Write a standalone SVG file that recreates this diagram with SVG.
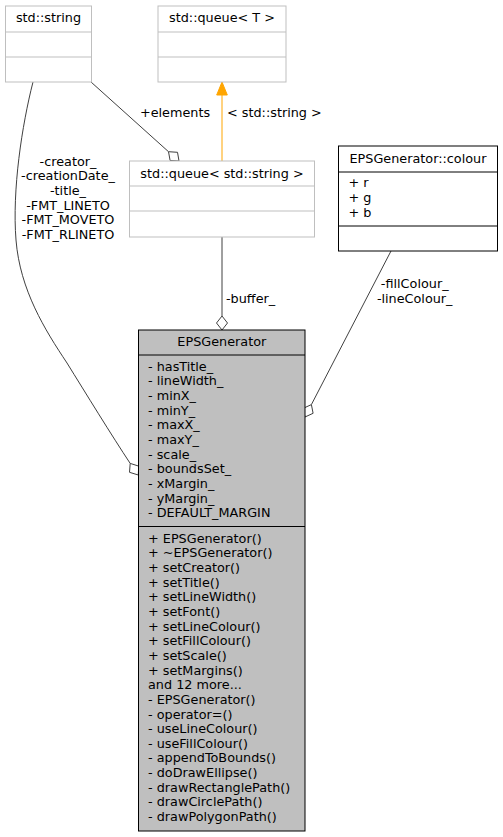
<svg xmlns="http://www.w3.org/2000/svg" width="503" height="837" viewBox="0 0 503 837">
<style>
text{font-family:"DejaVu Sans","Liberation Sans",sans-serif;font-size:12.8px;fill:#000}
.c{text-anchor:middle}
.g{fill:#fff;stroke:#bfbfbf;stroke-width:1}
.k{fill:#fff;stroke:#000;stroke-width:1}
.m{fill:#bfbfbf;stroke:#000;stroke-width:1}
.gl{stroke:#bfbfbf;stroke-width:1}
.kl{stroke:#000;stroke-width:1}
.e{fill:none;stroke:#404040;stroke-width:1}
.d{fill:#fff;stroke:#404040;stroke-width:1}
</style>
<rect width="503" height="837" fill="#fff"/>
<g id="connectors">
  <!-- std::string -> EPSGenerator -->
  <path class="e" d="M33,82 C22,125 12,190 16,240 C20,290 45,330 67,363 C85,392 112,436 130.2,463.4"/>
  <polygon class="d" points="138.3,475 138.7,466.1 130.2,463.4 129.5,472.3"/>
  <!-- std::string -> queue<string> elements -->
  <path class="e" d="M91,82 L168.5,151.7"/>
  <polygon class="d" points="179,161 177.5,152.3 168.5,151.7 170.1,160.5"/>
  <!-- template instantiation -->
  <line x1="222" y1="161" x2="222" y2="95" stroke="#ffa500" stroke-width="1"/>
  <polygon points="222,82 216.7,95 227.3,95" fill="#ffa500" stroke="#ffa500" stroke-width="1"/>
  <!-- buffer -->
  <line class="e" x1="222" y1="237" x2="222" y2="316"/>
  <polygon class="d" points="222,316 227.5,323 222,330 216.5,323"/>
  <!-- colour -->
  <path class="e" d="M391,251 L311.4,404.6"/>
  <polygon class="d" points="311.4,404.6 313.1,413.3 305,417 303.3,408.3"/>
  <text class="c" x="68" y="165.5">-creator_</text>
  <text class="c" x="68" y="180.2">-creationDate_</text>
  <text class="c" x="68" y="194.8">-title_</text>
  <text class="c" x="68" y="209.5">-FMT_LINETO</text>
  <text class="c" x="68" y="224.2">-FMT_MOVETO</text>
  <text class="c" x="68" y="238.8">-FMT_RLINETO</text>
  <text class="c" x="175" y="117.2">+elements</text>
  <text x="227" y="117.2">&lt; std::string &gt;</text>
  <text x="226" y="302.8">-buffer_</text>
  <text class="c" x="414.7" y="287.5">-fillColour_</text>
  <text class="c" x="414.7" y="302.5">-lineColour_</text>
</g>
<g id="std_string">
  <rect class="g" x="5.5" y="6" width="86" height="76"/>
  <line class="gl" x1="5.5" y1="32" x2="91.5" y2="32"/>
  <line class="gl" x1="5.5" y1="57" x2="91.5" y2="57"/>
  <text class="c" x="48.5" y="21.8">std::string</text>
</g>
<g id="std_queue_T">
  <rect class="g" x="158" y="6" width="128" height="76"/>
  <line class="gl" x1="158" y1="32" x2="286" y2="32"/>
  <line class="gl" x1="158" y1="57" x2="286" y2="57"/>
  <text class="c" x="222" y="21.8">std::queue&lt; T &gt;</text>
</g>
<g id="std_queue_string">
  <rect class="g" x="129.5" y="161" width="185" height="76"/>
  <line class="gl" x1="129.5" y1="186" x2="314.5" y2="186"/>
  <line class="gl" x1="129.5" y1="211" x2="314.5" y2="211"/>
  <text class="c" x="222" y="177.8">std::queue&lt; std::string &gt;</text>
</g>
<g id="EPSGenerator_colour">
  <rect class="k" x="338.5" y="146" width="159" height="105"/>
  <line class="kl" x1="338.5" y1="172" x2="497.5" y2="172"/>
  <line class="kl" x1="338.5" y1="226" x2="497.5" y2="226"/>
  <text class="c" x="418" y="162.8">EPSGenerator::colour</text>
  <text x="348.5" y="187.2">+ r</text>
  <text x="348.5" y="201.8">+ g</text>
  <text x="348.5" y="216.5">+ b</text>
</g>
<g id="EPSGenerator">
  <rect class="m" x="138.5" y="330" width="166.5" height="501"/>
  <line class="kl" x1="138.5" y1="355" x2="305" y2="355"/>
  <line class="kl" x1="138.5" y1="526.5" x2="305" y2="526.5"/>
  <text class="c" x="221.8" y="346.2">EPSGenerator</text>
  <text x="148">
    <tspan x="148" y="370.5">- hasTitle_</tspan>
    <tspan x="148" dy="14.67">- lineWidth_</tspan>
    <tspan x="148" dy="14.67">- minX_</tspan>
    <tspan x="148" dy="14.67">- minY_</tspan>
    <tspan x="148" dy="14.67">- maxX_</tspan>
    <tspan x="148" dy="14.67">- maxY_</tspan>
    <tspan x="148" dy="14.67">- scale_</tspan>
    <tspan x="148" dy="14.67">- boundsSet_</tspan>
    <tspan x="148" dy="14.67">- xMargin_</tspan>
    <tspan x="148" dy="14.67">- yMargin_</tspan>
    <tspan x="148" dy="14.67">- DEFAULT_MARGIN</tspan>
  </text>
  <text x="148">
    <tspan x="148" y="542.7">+ EPSGenerator()</tspan>
    <tspan x="148" dy="14.65">+ ~EPSGenerator()</tspan>
    <tspan x="148" dy="14.65">+ setCreator()</tspan>
    <tspan x="148" dy="14.65">+ setTitle()</tspan>
    <tspan x="148" dy="14.65">+ setLineWidth()</tspan>
    <tspan x="148" dy="14.65">+ setFont()</tspan>
    <tspan x="148" dy="14.65">+ setLineColour()</tspan>
    <tspan x="148" dy="14.65">+ setFillColour()</tspan>
    <tspan x="148" dy="14.65">+ setScale()</tspan>
    <tspan x="148" dy="14.65">+ setMargins()</tspan>
    <tspan x="148" dy="14.65">and 12 more...</tspan>
    <tspan x="148" dy="14.65">- EPSGenerator()</tspan>
    <tspan x="148" dy="14.65">- operator=()</tspan>
    <tspan x="148" dy="14.65">- useLineColour()</tspan>
    <tspan x="148" dy="14.65">- useFillColour()</tspan>
    <tspan x="148" dy="14.65">- appendToBounds()</tspan>
    <tspan x="148" dy="14.65">- doDrawEllipse()</tspan>
    <tspan x="148" dy="14.65">- drawRectanglePath()</tspan>
    <tspan x="148" dy="14.65">- drawCirclePath()</tspan>
    <tspan x="148" dy="14.65">- drawPolygonPath()</tspan>
  </text>
</g>
</svg>
